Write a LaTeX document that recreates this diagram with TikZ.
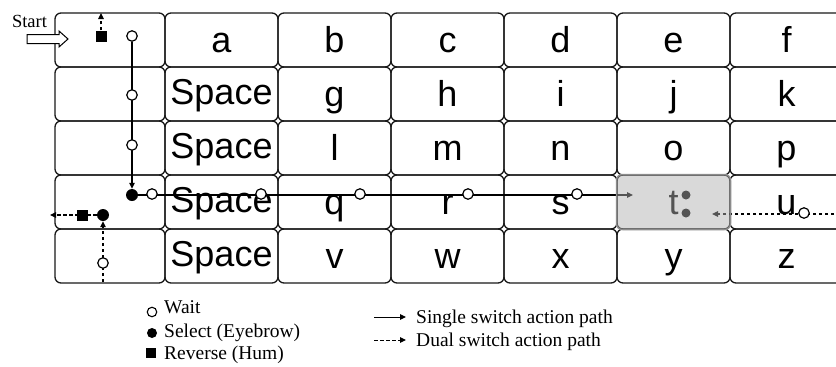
\documentclass[tikz,border=0pt]{standalone}
\usepackage{fontspec}
\setmainfont{Liberation Serif}
\newfontfamily\arialf{Liberation Sans}
\usetikzlibrary{arrows.meta}
\pgfdeclarelayer{cells}
\pgfdeclarelayer{lines}
\pgfdeclarelayer{top}
\pgfsetlayers{cells,lines,main,top}
\tikzset{
 cell/.style={draw=black!90, line width=1.3pt, rounded corners=6pt, minimum width=113pt, minimum height=54pt, inner sep=0pt, text height=26pt, text depth=2pt, font=\arialf\fontsize{36}{36}\selectfont},
 cellzero/.style={cell, minimum width=110pt},
 spacecell/.style={cell, text height=24pt, text depth=4pt},
 wait/.style={circle, draw=black, fill=white, line width=1.2pt, minimum size=10.5pt, inner sep=0pt},
 sel/.style={circle, fill=black, minimum size=12pt, inner sep=0pt},
 rev/.style={rectangle, fill=black, minimum size=11pt, inner sep=0pt},
 tdot/.style={circle, fill=black, minimum size=9pt, inner sep=0pt},
 pathone/.style={line width=1.1pt, -{Triangle[length=6pt,width=5.5pt]}},
 pathtwo/.style={pathone, dash pattern=on 3.5pt off 2.5pt},
 legend/.style={font=\fontsize{19.5}{20}\selectfont, anchor=base west, inner sep=0pt},
}
\begin{document}
\begin{tikzpicture}[x=1pt,y=-1pt]
\useasboundingbox (0,0) rectangle (836,367);
\begin{pgfonlayer}{cells}
\foreach \r/\y in {1/40,2/94,3/148,4/202,5/256}
  \node[cellzero] (c\r0) at (110,\y) {};
\foreach \t [count=\i] in {a,b,c,d,e,f}
  \node[cell] (c1\i) at ({221.5+113*(\i-1)},40) {\t};
\foreach \r/\y in {2/94,3/148,4/202,5/256}
  \node[spacecell] (c\r1) at (221.5,\y) {Space};
\foreach \t [count=\i from 2] in {g,h,i,j,k}
  \node[cell] (c2\i) at ({221.5+113*(\i-1)},94) {\t};
\foreach \t [count=\i from 2] in {l,m,n,o,p}
  \node[cell] (c3\i) at ({221.5+113*(\i-1)},148) {\t};
\foreach \t [count=\i from 2] in {q,r,s,t,u}
  \node[cell] (c4\i) at ({221.5+113*(\i-1)},202) {\t};
\foreach \t [count=\i from 2] in {v,w,x,y,z}
  \node[cell] (c5\i) at ({221.5+113*(\i-1)},256) {\t};
\end{pgfonlayer}

% start
\node[font=\fontsize{18.5}{19}\selectfont, anchor=base, inner sep=0pt] (start) at (29.5,27) {Start};
\draw[line width=1pt, fill=white] (27,34.5) -- (59,34.5) -- (59,31) -- (68,39) -- (59,47) -- (59,43.5) -- (27,43.5) -- cycle;

% markers
\node[rev] (sq1) at (101,36) {};
\coordinate (up1) at (101,13);
\node[wait] (w1) at (132,36) {};
\node[wait] (w2) at (132,95) {};
\node[wait] (w3) at (132,145) {};
\node[sel] (s1) at (132,195) {};
\node[wait] (w4) at (152,194) {};
\node[wait] (w5) at (261,194) {};
\node[wait] (w6) at (360,194) {};
\node[wait] (w7) at (468,194) {};
\node[wait] (w8) at (577,194) {};
\coordinate (tin) at (633,195);
\node[wait] (w9) at (103,263) {};
\coordinate (bot) at (103,282);
\node[sel] (s2) at (103,215) {};
\node[rev] (sq2) at (82,215) {};
\coordinate (lft) at (50,215);
\coordinate (rgt) at (840,214);
\node[wait] (w10) at (804,213) {};
\coordinate (tin2) at (712,214);
\node[tdot] (d1) at (686,195) {};
\node[tdot] (d2) at (686,213) {};

\begin{pgfonlayer}{lines}
\draw[pathtwo] (sq1) -- (up1);
\draw[pathone] (w1) -- (s1);
\draw[pathone] (s1) -- (tin);
\draw[pathtwo] (bot) -- (s2);
\draw[pathtwo] (s2) -- (lft);
\draw[pathtwo] (rgt) -- (tin2);
\end{pgfonlayer}

\begin{pgfonlayer}{top}
\draw[draw=black!45, line width=1.2pt, fill={rgb,1:red,0.69;green,0.69;blue,0.69}, fill opacity=0.48, rounded corners=6pt] (c45.north west) rectangle (c45.south east);
\end{pgfonlayer}

% legend
\node[wait, minimum size=9.5pt, line width=1.1pt] (lw) at (152,312) {};
\node[legend] (lwt) at (164,313) {Wait};
\node[sel, minimum size=10pt] (ls) at (152,333) {};
\node[legend] (lst) at (164,337) {Select (Eyebrow)};
\node[rev, minimum size=10pt] (lr) at (151,353) {};
\node[legend] (lrt) at (164,359) {Reverse (Hum)};
\coordinate (aones) at (374,317);
\coordinate (aonee) at (406,317);
\draw[pathone, line width=1pt] (aones) -- (aonee);
\node[legend] (lone) at (416,323) {Single switch action path};
\coordinate (atwos) at (374,340);
\coordinate (atwoe) at (406,340);
\draw[pathtwo, line width=1pt] (atwos) -- (atwoe);
\node[legend] (ltwo) at (416,346) {Dual switch action path};
\end{tikzpicture}
\end{document}
